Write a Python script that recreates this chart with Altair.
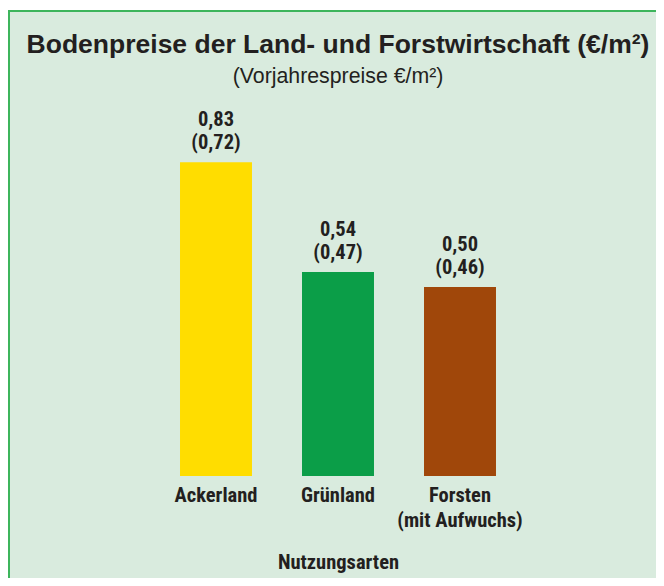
import altair as alt
import pandas as pd

categories = ["Ackerland", "Grünland", "Forsten\n(mit Aufwuchs)"]
values = [0.83, 0.54, 0.50]
prev_values = [0.72, 0.47, 0.46]
colors = ["#ffdd00", "#0b9e48", "#a0470a"]

title_text = "Bodenpreise der Land- und Forstwirtschaft (€/m²)"
subtitle_text = "(Vorjahrespreise €/m²)"

df = pd.DataFrame({"kat": categories, "wert": values, "vorjahr": prev_values, "farbe": colors})

NARROW = "Liberation Sans Narrow, Arial Narrow, Roboto Condensed, sans-serif"
SANS = "Liberation Sans, Arial, sans-serif"
TXT = "#231f20"

one = pd.DataFrame({"a": [0]})

frame = alt.Chart(one).mark_rect(
    fill="#d9ebde", stroke="#3db55c", strokeWidth=2, clip=False
).encode(
    x=alt.value(-146), x2=alt.value(700), y=alt.value(-87), y2=alt.value(700)
)

title = alt.Chart(pd.DataFrame({"t": [title_text]})).mark_text(
    font=SANS, fontSize=26.5, fontWeight="bold", color=TXT, baseline="alphabetic", align="center"
).encode(text="t:N", x=alt.value(183), y=alt.value(-45))

subtitle = alt.Chart(pd.DataFrame({"t": [subtitle_text]})).mark_text(
    font=SANS, fontSize=21.3, color=TXT, baseline="alphabetic", align="center"
).encode(text="t:N", x=alt.value(183), y=alt.value(-15))

base = alt.Chart(df).encode(
    x=alt.X("kat:N", sort=categories, title="Nutzungsarten",
            scale=alt.Scale(paddingInner=0.41, paddingOuter=0.205),
            axis=alt.Axis(labelAngle=0, domain=False, ticks=False, zindex=2,
                          labelExpr="split(datum.label, '\\n')",
                          labelFont=NARROW, labelFontSize=20.5, labelFontWeight="bold",
                          labelColor=TXT, labelPadding=9, labelLineHeight=25,
                          titleFont=NARROW, titleFontSize=20.5, titleFontWeight="bold",
                          titleColor=TXT, titlePadding=22)),
    y=alt.Y("wert:Q", scale=alt.Scale(domain=[0, 1]), axis=None),
)

bars = base.mark_bar().encode(color=alt.Color("farbe:N", scale=None))

labels = base.transform_calculate(
    lab="replace(format(datum.wert, '.2f'), '.', ',') + '\\n(' + replace(format(datum.vorjahr, '.2f'), '.', ',') + ')'"
).mark_text(
    baseline="bottom", dy=-32, lineBreak="\n", lineHeight=23,
    font=NARROW, fontSize=20.5, fontWeight="bold", color=TXT
).encode(text="lab:N")

chart = alt.layer(frame, title, subtitle, bars, labels).properties(
    width=366, height=378,
    padding={"left": 147, "right": 135, "top": 90, "bottom": 102},
    autosize=alt.AutoSizeParams(type="none"),
    background="white",
).configure_view(stroke=None)

chart.save("out.html", embed_options={"renderer": "svg", "actions": False})
